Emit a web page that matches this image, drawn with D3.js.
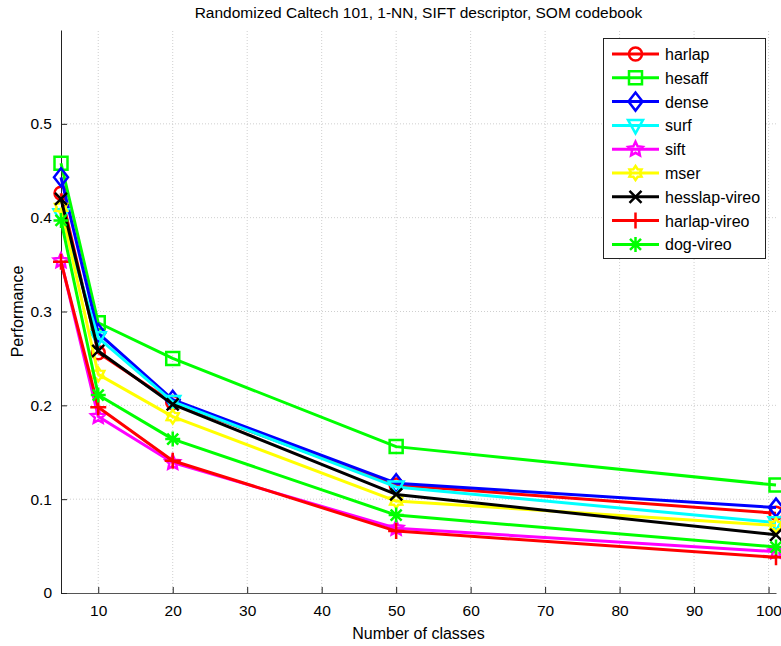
<!DOCTYPE html>
<html>
<head>
<meta charset="utf-8">
<script src="https://cdn.jsdelivr.net/npm/d3@7"></script>
<style>
  html, body { margin: 0; padding: 0; background: #fff; }
  svg { display: block; font-family: "Liberation Sans", Arial, Helvetica, sans-serif; }
</style>
</head>
<body>
<svg id="chart" width="781" height="646"></svg>
<script>
// Number of classes at which each descriptor was evaluated
const classes = [5, 10, 20, 50, 101];

// Performance per detector/descriptor
const harlap       = [0.426, 0.256, 0.203, 0.115, 0.085];
const hesaff       = [0.458, 0.288, 0.250, 0.156, 0.115];
const dense        = [0.443, 0.277, 0.206, 0.117, 0.091];
const surf         = [0.403, 0.272, 0.204, 0.113, 0.075];
const sift         = [0.354, 0.188, 0.139, 0.069, 0.044];
const mser         = [0.411, 0.233, 0.188, 0.098, 0.072];
const hesslapVireo = [0.420, 0.258, 0.201, 0.105, 0.062];
const harlapVireo  = [0.353, 0.198, 0.141, 0.066, 0.038];
const dogVireo     = [0.397, 0.211, 0.164, 0.083, 0.049];

const seriesNames  = ["harlap", "hesaff", "dense", "surf", "sift", "mser", "hesslap-vireo", "harlap-vireo", "dog-vireo"];
const seriesValues = [harlap, hesaff, dense, surf, sift, mser, hesslapVireo, harlapVireo, dogVireo];
const seriesColors = ["#ff0000", "#00ff00", "#0000ff", "#00ffff", "#ff00ff", "#ffff00", "#000000", "#ff0000", "#00ff00"];
const seriesMarkers = ["circle", "square", "diamond", "triangleDown", "pentagram", "hexagram", "x", "plus", "asterisk"];

const xTicks = [10, 20, 30, 40, 50, 60, 70, 80, 90, 100];
const yTicks = [0, 0.1, 0.2, 0.3, 0.4, 0.5];

const titleText = "Randomized Caltech 101, 1-NN, SIFT descriptor, SOM codebook";
const xLabel = "Number of classes";
const yLabel = "Performance";

const svg = d3.select("#chart");
const margin = { left: 61, right: 5, top: 30, bottom: 53 };
const W = 781, H = 646;
const x = d3.scaleLinear().domain([5, 101]).range([margin.left, W - margin.right]);
const y = d3.scaleLinear().domain([0, 0.6]).range([H - margin.bottom, margin.top]);

// Marker path generators (centred at 0,0)
function starPath(points, rOuter, rInner, rot) {
  const p = [];
  for (let i = 0; i < points * 2; i++) {
    const r = i % 2 === 0 ? rOuter : rInner;
    const a = rot + i * Math.PI / points;
    p.push([r * Math.cos(a), r * Math.sin(a)]);
  }
  return "M" + p.map(d => d[0].toFixed(2) + "," + d[1].toFixed(2)).join("L") + "Z";
}
const markerPath = {
  circle: () => d3.arc()({ innerRadius: 0, outerRadius: 6.5, startAngle: 0, endAngle: 2 * Math.PI }),
  square: () => "M-6.5,-6.5H6.5V6.5H-6.5Z",
  diamond: () => "M0,-9L7,0L0,9L-7,0Z",
  triangleDown: () => "M-7.5,-5.5H7.5L0,8Z",
  pentagram: () => starPath(5, 7.5, 3.6, -Math.PI / 2),
  hexagram: () => starPath(6, 7, 4.3, -Math.PI / 2),
  x: () => "M-6,-6L6,6M-6,6L6,-6",
  plus: () => "M-8,0H8M0,-8V8",
  asterisk: () => "M-7.5,0H7.5M0,-7.5V7.5M-5.5,-5.5L5.5,5.5M-5.5,5.5L5.5,-5.5"
};

// Grid
const grid = svg.append("g");
grid.selectAll(".gx").data(xTicks).join("line")
  .attr("x1", d => x(d)).attr("x2", d => x(d))
  .attr("y1", y(0)).attr("y2", margin.top)
  .attr("stroke", "#cfcfcf").attr("stroke-width", 1).attr("stroke-dasharray", "1,2");
grid.selectAll(".gy").data(yTicks.filter(d => d > 0)).join("line")
  .attr("x1", margin.left).attr("x2", W - margin.right)
  .attr("y1", d => y(d)).attr("y2", d => y(d))
  .attr("stroke", "#cfcfcf").attr("stroke-width", 1).attr("stroke-dasharray", "1,2");

// Axes
const xAxis = d3.axisBottom(x).tickValues(xTicks).tickSizeInner(-6).tickSizeOuter(0).tickPadding(12);
const gx = svg.append("g").attr("transform", `translate(0,${y(0)})`).call(xAxis);
gx.select(".domain").attr("stroke", "#555").attr("stroke-width", 1.2);
gx.selectAll(".tick line").attr("stroke", "#222");
gx.selectAll("text").attr("font-size", 15.5).attr("fill", "#000");

const yAxis = d3.axisLeft(y).tickValues(yTicks).tickFormat(d => d === 0 ? "0" : d3.format(".1f")(d))
  .tickSizeInner(-6).tickSizeOuter(0).tickPadding(9);
const gy = svg.append("g").attr("transform", `translate(${margin.left},0)`).call(yAxis);
gy.select(".domain").attr("stroke", "#222").attr("stroke-width", 1);
gy.selectAll(".tick line").attr("stroke", "#222");
gy.selectAll("text").attr("font-size", 15.5).attr("fill", "#000");

// Series lines and markers
const line = d3.line().x((d, i) => x(classes[i])).y(d => y(d));
seriesValues.forEach((vals, k) => {
  const g = svg.append("g");
  g.append("path").datum(vals).attr("d", line)
    .attr("fill", "none").attr("stroke", seriesColors[k]).attr("stroke-width", 3)
    .attr("stroke-linejoin", "round");
  g.selectAll("path.m").data(vals).join("path").attr("class", "m")
    .attr("transform", (d, i) => `translate(${x(classes[i])},${y(d)})`)
    .attr("d", markerPath[seriesMarkers[k]]())
    .attr("fill", "none").attr("stroke", seriesColors[k]).attr("stroke-width", 2.5);
});

// Title and axis labels
svg.append("text").attr("x", (margin.left + W - margin.right) / 2).attr("y", 18)
  .attr("text-anchor", "middle").attr("font-size", 15.5).text(titleText);
svg.append("text").attr("x", (margin.left + W - margin.right) / 2).attr("y", 639)
  .attr("text-anchor", "middle").attr("font-size", 16).text(xLabel);
svg.append("text").attr("transform", `translate(23,${(margin.top + H - margin.bottom) / 2}) rotate(-90)`)
  .attr("text-anchor", "middle").attr("font-size", 16).text(yLabel);

// Legend
const lg = svg.append("g");
lg.append("rect").attr("x", 603.5).attr("y", 38.5).attr("width", 162).attr("height", 220)
  .attr("fill", "#fff").attr("stroke", "#222").attr("stroke-width", 1);
seriesNames.forEach((name, k) => {
  const cy = 54 + k * 23.8;
  lg.append("line").attr("x1", 612).attr("x2", 659).attr("y1", cy).attr("y2", cy)
    .attr("stroke", seriesColors[k]).attr("stroke-width", 3);
  lg.append("path").attr("transform", `translate(635.5,${cy})`).attr("d", markerPath[seriesMarkers[k]]())
    .attr("fill", "none").attr("stroke", seriesColors[k]).attr("stroke-width", 2.5);
  lg.append("text").attr("x", 665).attr("y", cy + 6).attr("font-size", 16).text(name);
});
</script>
</body>
</html>
